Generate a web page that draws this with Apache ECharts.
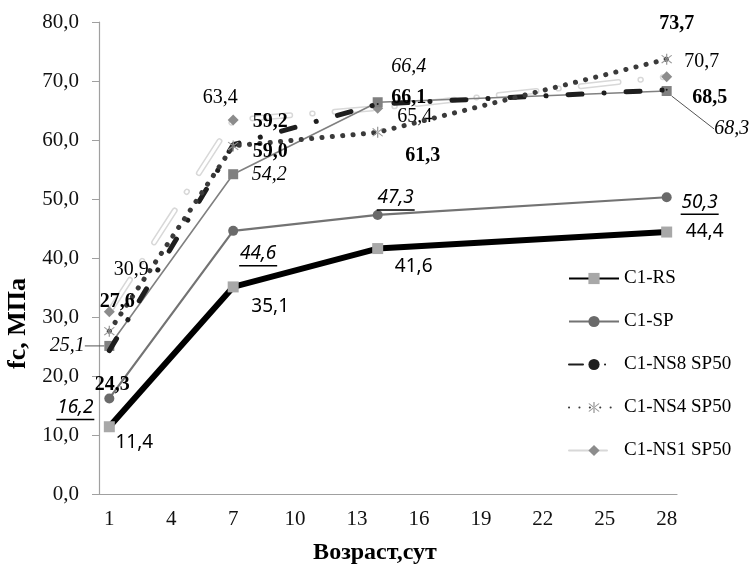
<!DOCTYPE html>
<html><head><meta charset="utf-8">
<script src="https://cdn.jsdelivr.net/npm/echarts/dist/echarts.min.js"></script>
<style>html,body{margin:0;padding:0;background:#fff}#c{width:754px;height:568px}</style>
</head><body><div id="c"></div>
<script>
// ---- data ----
var days = [];
for (var d = 1; d <= 28; d++) days.push(String(d));
var ages = ['1', '7', '14', '28'];
var rsVals  = [11.4, 35.1, 41.6, 44.4];   // C1-RS
var spVals  = [16.2, 44.6, 47.3, 50.3];   // C1-SP
var ns8Vals = [24.3, 59.2, 66.1, 68.5];   // C1-NS8 SP50
var ns4Vals = [27.6, 59.0, 61.3, 73.7];   // C1-NS4 SP50
var ns1Vals = [30.9, 63.4, 65.4, 70.7];   // C1-NS1 SP50
var exVals  = [25.1, 54.2, 66.4, 68.3];   // unlabelled grey series
var legendNames = ['C1-RS', 'C1-SP', 'C1-NS8 SP50', 'C1-NS4 SP50', 'C1-NS1 SP50'];

// ---- label placement (offsets from point, px) ----
var rsOff  = [[25, 16], [37, 20], [36, 18], [38, 0]];
var spOff  = [[-34, 10], [25, 24], [18, -16], [33, 6]];
var exOff  = [[-42, 0], [36, 1], [31, -35], [65, 38]];
var ns8Off = [[3, 34], [37, -23], [31, -6], [43, 8]];
var ns4Off = [[8, -29], [37, 6], [45, 23], [10, -35]];
var ns1Off = [[22, -42], [-13, -22], [37, 9], [35, -15]];
var exLine = [true, false, false, true];

var SERIF = 'Liberation Serif';
var SANS = 'Noto Sans';

function pairs(v) { return ages.map(function (a, i) { return [a, v[i]]; }); }
function fmt(v) { return v.toFixed(1).replace('.', ','); }
function layoutFrom(off) {
  return function (p) { var o = off[p.dataIndex]; return { dx: o[0], dy: o[1] }; };
}
function lbl(font, weight, style, size) {
  return {
    show: true, position: 'inside', color: '#000',
    fontFamily: font, fontWeight: weight, fontStyle: style, fontSize: size,
    formatter: function (p) { return fmt(p.value[1]); }
  };
}
var asterisk = 'path://M9.2 1H10.8V19H9.2Z M4.17 16.97L16.97 4.17L15.83 3.03L3.03 15.83Z M3.03 4.17L15.83 16.97L16.97 15.83L4.17 3.03Z';
var ns1Dash = [38, 22, 0.5, 22];

var exData = pairs(exVals).map(function (p, i) {
  return exLine[i] ? { value: p, labelLine: { show: true, lineStyle: { color: '#555', width: 1 } } } : { value: p };
});

var chart = echarts.init(document.getElementById('c'), null, { renderer: 'canvas' });
chart.setOption({
  animation: false,
  backgroundColor: '#fff',
  grid: { left: 99, right: 77, top: 22, bottom: 74, containLabel: false, outerBoundsMode: 'none' },
  legend: {
    data: legendNames, orient: 'vertical', left: 563, top: 264,
    itemWidth: 50, itemHeight: 14, itemGap: 24,
    textStyle: { fontFamily: SERIF, fontSize: 19, color: '#000' }
  },
  xAxis: {
    type: 'category', data: days, boundaryGap: true,
    name: 'Возраст,сут', nameLocation: 'middle', nameGap: 47,
    nameTextStyle: { fontFamily: SERIF, fontWeight: 'bold', fontSize: 24, color: '#000', padding: [0, 26, 0, 0] },
    axisLine: { lineStyle: { color: '#a0a0a0', width: 1.2 } },
    axisTick: { interval: 2, length: 6, lineStyle: { color: '#a0a0a0' } },
    axisLabel: { interval: 2, margin: 15, fontFamily: SERIF, fontSize: 21, color: '#111' },
    splitLine: { show: false }
  },
  yAxis: {
    type: 'value', min: 0, max: 80, interval: 10,
    name: 'fc, МПа', nameLocation: 'middle', nameGap: 67,
    nameTextStyle: { fontFamily: SERIF, fontWeight: 'bold', fontSize: 26, color: '#000', padding: [0, 131, 0, 0] },
    axisLine: { show: true, lineStyle: { color: '#a0a0a0', width: 1.2 } },
    axisTick: { show: true, length: 7, lineStyle: { color: '#a0a0a0' } },
    axisLabel: { margin: 20, fontFamily: SERIF, fontSize: 21, color: '#111', formatter: function (v) { return fmt(v); } },
    splitLine: { show: false }
  },
  series: [
    {
      name: 'C1-NS1 SP50', type: 'line', data: pairs(ns1Vals), z: 1,
      symbol: 'diamond', symbolSize: 11, itemStyle: { color: '#8c8c8c' },
      lineStyle: { color: '#d8d8d8', width: 6, type: ns1Dash, cap: 'round' },
      label: lbl(SERIF, 'normal', 'normal', 20), labelLayout: layoutFrom(ns1Off)
    },
    {
      name: 'ns1-inner', type: 'line', data: pairs(ns1Vals), z: 1, silent: true,
      symbol: 'none', lineStyle: { color: '#ffffff', width: 3, type: ns1Dash, cap: 'round' }
    },
    {
      name: 'extra', type: 'line', data: exData, z: 2,
      symbol: 'rect', symbolSize: 10, itemStyle: { color: '#808080' },
      lineStyle: { color: '#808080', width: 1.6 },
      label: lbl(SERIF, 'normal', 'italic', 20), labelLayout: layoutFrom(exOff)
    },
    {
      name: 'C1-SP', type: 'line', data: pairs(spVals), z: 2,
      symbol: 'circle', symbolSize: 10, itemStyle: { color: '#6a6a6a' },
      lineStyle: { color: '#737373', width: 2.2 },
      label: {
        show: true, position: 'inside', align: 'center',
        formatter: function (p) { return '{t|' + fmt(p.value[1]) + '}\n{u|}'; },
        rich: {
          t: { fontFamily: SANS, fontStyle: 'italic', fontSize: 19, color: '#000', lineHeight: 22, align: 'center' },
          u: { width: 38, height: 1.5, lineHeight: 2, backgroundColor: '#000', align: 'center' }
        }
      },
      labelLayout: layoutFrom(spOff)
    },
    {
      name: 'C1-RS', type: 'line', data: pairs(rsVals), z: 2,
      symbol: 'rect', symbolSize: 11, itemStyle: { color: '#a8a8a8' },
      lineStyle: { color: '#000', width: 6 },
      label: lbl(SANS, 'normal', 'normal', 19), labelLayout: layoutFrom(rsOff)
    },
    {
      name: 'C1-NS8 SP50', type: 'line', data: pairs(ns8Vals), z: 3,
      symbol: 'circle', symbolSize: 2, itemStyle: { color: '#1e1e1e' },
      lineStyle: { color: '#1e1e1e', width: 5, type: [14, 22, 0.1, 22], cap: 'round' },
      label: lbl(SERIF, 'bold', 'normal', 20), labelLayout: layoutFrom(ns8Off)
    },
    {
      name: 'C1-NS4 SP50', type: 'line', data: pairs(ns4Vals), z: 3,
      symbol: asterisk, symbolSize: 11, itemStyle: { color: '#9a9a9a' },
      lineStyle: { color: '#3a3a3a', width: 5, type: [0.1, 10.3], cap: 'round' },
      label: lbl(SERIF, 'bold', 'normal', 20), labelLayout: layoutFrom(ns4Off)
    }
  ]
});
</script>
</body></html>
